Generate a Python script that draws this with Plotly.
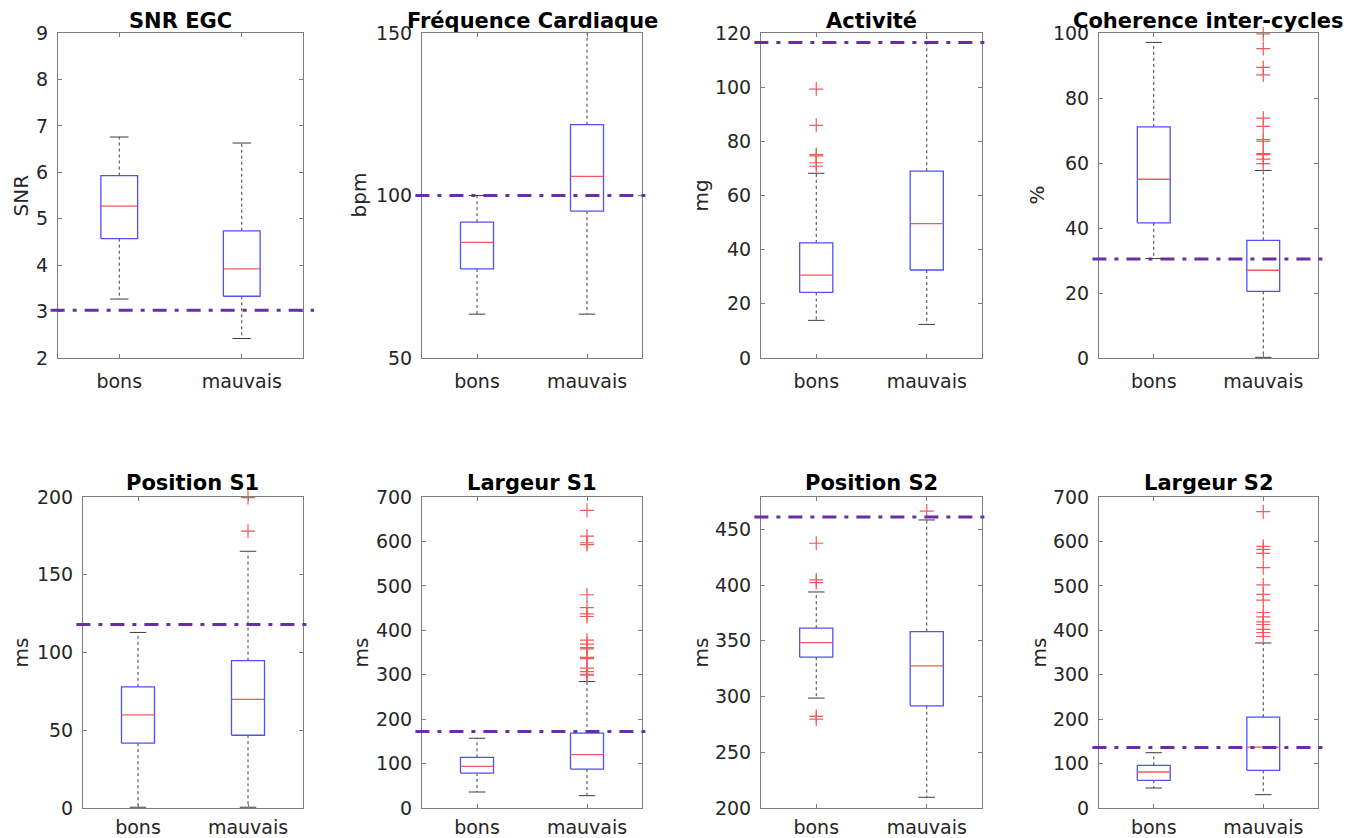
import plotly.graph_objects as go

# page body adds an 8px margin; lay out the figure in reference pixels minus that offset
OFF = 8
W, H = 1361 - OFF, 838 - OFF

titles = ["SNR EGC", "Fréquence Cardiaque", "Activité", "Coherence inter-cycles",
          "Position S1", "Largeur S1", "Position S2", "Largeur S2"]
ylabels = ["SNR", "bpm", "mg", "%", "ms", "ms", "ms", "ms"]
categories = ["bons", "mauvais"]

# box statistics, one value per panel
bons_low  = [3.27, 63.5, 13.9, 30.6, 0.5, 36.0, 298.6, 45.0]
bons_q1   = [4.57, 77.4, 24.2, 41.6, 41.7, 78.7, 335.3, 62.3]
bons_med  = [5.27, 85.6, 30.6, 55.0, 59.9, 93.7, 348.4, 81.0]
bons_q3   = [5.93, 91.8, 42.5, 71.1, 77.9, 114.0, 361.3, 96.0]
bons_high = [6.76, 100.0, 68.2, 97.1, 112.9, 157.0, 393.8, 124.4]

mauv_low  = [2.42, 63.5, 12.4, 0.2, 0.5, 27.8, 209.6, 30.0]
mauv_q1   = [3.33, 95.2, 32.5, 20.5, 46.8, 87.7, 291.7, 84.7]
mauv_med  = [3.92, 105.9, 49.6, 27.0, 69.9, 120.0, 327.5, 137.1]
mauv_q3   = [4.74, 121.8, 69.0, 36.2, 94.8, 168.6, 358.3, 204.5]
mauv_high = [6.63, 160.0, 130.0, 57.7, 165.1, 284.6, 458.4, 371.4]

bons_out = [[], [], [99.3, 85.9, 75.1, 74.6, 72.1, 70.8], [], [], [],
            [437.5, 404.6, 402.2, 282.2, 279.8], []]
mauv_out = [[], [], [],
            [99.7, 95.2, 89.4, 87.1, 73.8, 71.3, 67.2, 66.7, 62.9, 62.6, 61.2, 59.8],
            [199.6, 178.0],
            [670, 612, 597, 593, 480, 451, 437, 431, 378, 369, 361, 358, 339, 336, 315, 307, 301, 299],
            [466.4],
            [667, 589, 582, 573, 541, 502, 481, 468, 440, 430, 419, 413, 402, 395, 386]]

thresholds = [3.03, 100.0, 116.5, 30.5, 118.0, 172.0, 461.0, 136.0]

y_ranges = [[2, 9], [50, 150], [0, 120], [0, 100], [0, 200], [0, 700], [200, 479], [0, 700]]
y_ticks = [list(range(2, 10)), [50, 100, 150], list(range(0, 121, 20)), list(range(0, 101, 20)),
           list(range(0, 201, 50)), list(range(0, 701, 100)), list(range(200, 451, 50)),
           list(range(0, 701, 100))]

# layout (reference pixels)
x_px = [(58, 303), (422, 642), (761, 982), (1099, 1318),
        (83, 303), (422, 642), (761, 982), (1099, 1318)]
row_px = [(33, 358), (497, 808)]
title_y = [21, 483]
ylab_x = [20, 358, 700, 1036, 20, 360, 700, 1038]
x_standoff = [6, 2]

BLUE = "rgb(80,80,245)"
RED = "rgb(240,90,90)"
WHISK = "rgb(60,60,60)"
AX = "rgb(125,125,125)"
TXT = "rgb(38,38,38)"
PURPLE = "rgb(105,45,165)"
FONT = "DejaVu Sans"


def px_x(v):
    return (v - OFF) / W


def px_y(v):
    return 1 - (v - OFF) / H


fig = go.Figure()
hw, cw = 0.15, 0.075

for k in range(8):
    xa = "x" if k == 0 else f"x{k+1}"
    ya = "y" if k == 0 else f"y{k+1}"
    stats = [(bons_low[k], bons_q1[k], bons_med[k], bons_q3[k], bons_high[k], bons_out[k]),
             (mauv_low[k], mauv_q1[k], mauv_med[k], mauv_q3[k], mauv_high[k], mauv_out[k])]
    for i, (lo, q1, md, q3, hi, out) in enumerate(stats, start=1):
        fig.add_trace(go.Scatter(x=[i, i, None, i, i], y=[q3, hi, None, q1, lo], mode="lines",
                                 line=dict(color=WHISK, width=1, dash="3px,3px"),
                                 xaxis=xa, yaxis=ya, hoverinfo="skip"))
        fig.add_trace(go.Scatter(x=[i - cw, i + cw, None, i - cw, i + cw], y=[hi, hi, None, lo, lo],
                                 mode="lines", line=dict(color=WHISK, width=1),
                                 xaxis=xa, yaxis=ya, hoverinfo="skip"))
        fig.add_trace(go.Scatter(x=[i - hw, i + hw, i + hw, i - hw, i - hw], y=[q1, q1, q3, q3, q1],
                                 mode="lines", line=dict(color=BLUE, width=1.3),
                                 xaxis=xa, yaxis=ya, hoverinfo="skip"))
        fig.add_trace(go.Scatter(x=[i - hw, i + hw], y=[md, md], mode="lines",
                                 line=dict(color=RED, width=1.3),
                                 xaxis=xa, yaxis=ya, hoverinfo="skip"))
        if out:
            fig.add_trace(go.Scatter(x=[i] * len(out), y=out, mode="markers",
                                     marker=dict(symbol="cross-thin", size=10,
                                                 line=dict(color=RED, width=1.2)),
                                     cliponaxis=False, xaxis=xa, yaxis=ya, hoverinfo="skip"))

    x0, x1 = x_px[k]
    r = 0 if k < 4 else 1
    yt, yb = row_px[r]
    common = dict(showline=True, linecolor=AX, linewidth=1, mirror="ticks", ticks="inside",
                  ticklen=4, tickcolor=AX, showgrid=False, zeroline=False, automargin=False,
                  tickfont=dict(family=FONT, size=19, color=TXT))
    fig.update_layout(**{
        ("xaxis" if k == 0 else f"xaxis{k+1}"): dict(
            domain=[px_x(x0), px_x(x1)], anchor=ya, range=[0.5, 2.5],
            tickvals=[1, 2], ticktext=categories, ticklabelstandoff=x_standoff[r], **common),
        ("yaxis" if k == 0 else f"yaxis{k+1}"): dict(
            domain=[px_y(yb), px_y(yt)], anchor=xa, range=y_ranges[k],
            tickvals=y_ticks[k], ticklabelstandoff=5, **common),
    })
    fig.add_shape(type="line", xref=f"{xa} domain", yref=ya, x0=-0.03, x1=1.045,
                  y0=thresholds[k], y1=thresholds[k],
                  line=dict(color=PURPLE, width=3, dash="14px,8px,4px,8px"))
    fig.add_annotation(text=f"<b>{titles[k]}</b>", xref="paper", yref="paper",
                       x=px_x((x0 + x1) / 2), y=px_y(title_y[r]), showarrow=False,
                       xanchor="center", yanchor="middle",
                       font=dict(family=FONT, size=21, color="black"))
    fig.add_annotation(text=ylabels[k], xref="paper", yref="paper",
                       x=px_x(ylab_x[k]), y=px_y((yt + yb) / 2), showarrow=False,
                       textangle=-90, xanchor="center", yanchor="middle",
                       font=dict(family=FONT, size=20, color=TXT))

fig.update_layout(width=W, height=H, margin=dict(l=0, r=0, t=0, b=0),
                  paper_bgcolor="white", plot_bgcolor="white", showlegend=False)

fig.write_html("out.html")
